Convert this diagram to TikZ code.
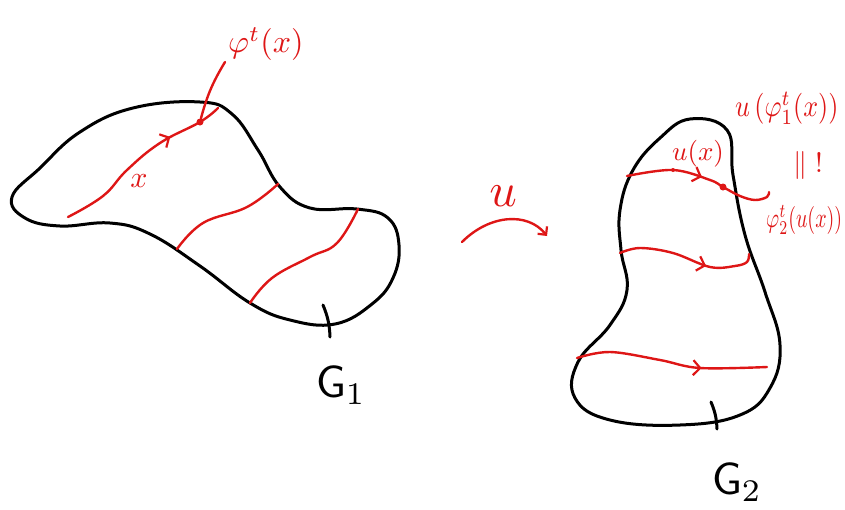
\documentclass[tikz,border=0pt]{standalone}
\usepackage{graphicx}
\usetikzlibrary{arrows.meta,decorations.markings}
\definecolor{pen}{RGB}{222,22,22}
\tikzset{
  outline/.style={line width=3pt, line join=round, line cap=round},
  redline/.style={pen, line width=2.4pt, line cap=round, line join=round},
  midarrow/.style={postaction={decorate}, decoration={markings,
      mark=at position #1 with {\arrow[pen]{Straight Barb[length=7pt,width=15pt,line width=2.2pt]}}}},
  dot/.style={circle, fill=pen, inner sep=0pt, minimum size=7pt},
  smalldot/.style={circle, fill=pen, inner sep=0pt, minimum size=4pt},
  lab/.style={text=pen, inner sep=0pt},
  blab/.style={text=black, inner sep=0pt},
}
\begin{document}
\begin{tikzpicture}[x=1pt,y=-1pt]
\useasboundingbox (0,0) rectangle (845,509);
% ---------- G1 ----------
\draw[outline] plot[smooth cycle, tension=0.7] coordinates {
  (12,197) (40,168) (80,132) (133,108) (200,102) (232,114) (258,150)
  (280,187) (310,208) (357,209) (388,218) (399,245) (393,278) (372,304)
  (335,324) (290,320) (250,303) (200,266) (150,234) (110,223) (60,226) (25,218)};
\draw[outline] (323,305) to[bend left=10] (330,337);
% red curves in G1
\draw[redline, midarrow=0.7] plot[smooth, tension=0.7] coordinates {
  (68,217) (103,196) (127,170) (160,143) (200,122) (218,108)};
\node[dot] (p1) at (200,122) {};
\draw[redline] plot[smooth, tension=0.7] coordinates {
  (177,249) (203,223) (247,207) (278,184)};
\draw[redline] plot[smooth, tension=0.7] coordinates {
  (250,303) (272,278) (310,257) (337,243) (358,209)};
\node[lab] (xlab) at (139,181) {\scalebox{3.0}{$x$}};
\node[lab, anchor=west] (philab) at (228,44) {\scalebox{3.2}{$\varphi^t(x)$}};
\coordinate (l1) at (225,62);
\draw[redline] (l1) to[bend right=8] (p1);
\node[blab] (g1) at (341,385) {\scalebox{4.5}{$\mathsf{G}_1$}};
% ---------- map u ----------
\coordinate (ua) at (462,242);
\coordinate (ub) at (547,236);
\draw[redline, -{Straight Barb[length=6pt,width=12pt,line width=2.2pt]}]
  (ua) .. controls (490,214) and (528,212) .. (ub);
\node[lab] (ulab) at (503,196) {\scalebox{4.8}{$u$}};
% ---------- G2 ----------
\draw[outline] plot[smooth cycle, tension=0.7] coordinates {
  (690,119) (727,130) (733,175) (745,235) (765,292) (780,345) (770,388)
  (740,415) (680,425) (610,420) (575,398) (578,362) (610,325) (627,290)
  (621,250) (620,210) (633,170) (660,138)};
\draw[outline] (711,402) to[bend left=10] (717,429);
% red curves in G2
\draw[redline, midarrow=0.5] plot[smooth, tension=0.6] coordinates {
  (627,176) (673,170) (710,180) (723,187) (740,196) (755,200) (767,197) (769,192)};
\node[smalldot] (p2) at (673,170) {};
\node[dot] (p3) at (723,187) {};
\draw[redline, midarrow=0.64] plot[smooth, tension=0.6] coordinates {
  (620,253) (640,248) (673,253) (710,267) (735,266) (747,262) (749,254)};
\draw[redline, midarrow=0.66] plot[smooth, tension=0.6] coordinates {
  (577,358) (610,352) (660,360) (700,368) (767,367)};
\node[lab] (uxlab) at (698,154) {\scalebox{2.7}{$u(x)$}};
\node[lab, anchor=west] (uphilab) at (735,108) {\scalebox{2.6}[3.1]{$u\,(\varphi_1^t(x))$}};
\node[lab] (eqlab) at (808,165) {\scalebox{2.8}{$\|\;!$}};
\node[lab, anchor=west] (phi2lab) at (766,220) {\scalebox{2.0}[2.8]{$\varphi_2^t(u(x))$}};
\node[blab] (g2) at (737,482) {\scalebox{4.5}{$\mathsf{G}_2$}};
\end{tikzpicture}
\end{document}
